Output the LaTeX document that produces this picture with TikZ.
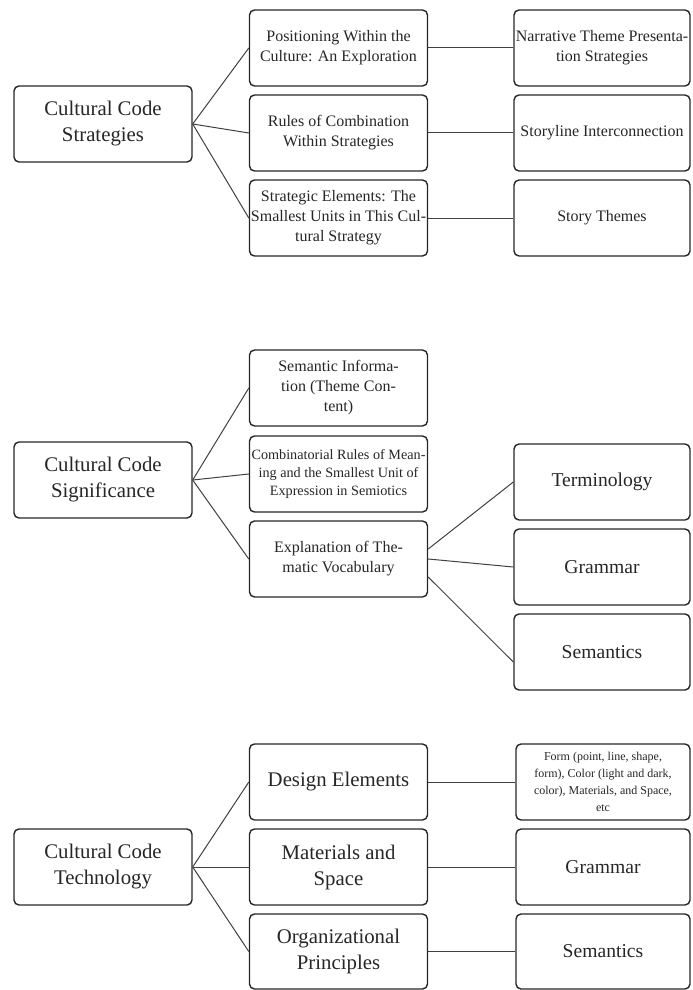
\documentclass[tikz,border=0pt]{standalone}
\usepackage{fontspec}
\setmainfont{Liberation Serif}
\begin{document}
\begin{tikzpicture}[x=0.5pt, y=-0.5pt,
		box/.style={draw=black!85, rounded corners=2.5pt, line width=0.7pt, align=center,
			minimum width=89pt, minimum height=38pt, inner sep=0.3pt, text=black!85},
		rbox/.style={box, minimum width=88pt},
		link/.style={draw=black!75, line width=0.5pt},
		big/.style={font=\fontsize{10.4}{13}\selectfont},
		large/.style={font=\fontsize{9.8}{12}\selectfont},
		mid/.style={font=\fontsize{8}{10}\selectfont},
		small/.style={font=\fontsize{7.1}{9}\selectfont},
		tiny/.style={font=\fontsize{6}{8.6}\selectfont}]
	
	\useasboundingbox (0,0) rectangle (692,990);
	
	% ================= Strategies =================
	\node[box, big] (root1) at (103,124) {Cultural Code\\Strategies};
	\node[box, mid] (pos) at (338.5,48) {Positioning Within the\\Culture: An Exploration};
	\node[box, mid] (rules) at (338.5,133) {Rules of Combination\\Within Strategies};
	\node[box, mid] (elem) at (338.5,218) {Strategic Elements: The\\Smallest Units in This Cul-\\tural Strategy};
	\node[rbox, mid] (narr) at (602,48) {Narrative Theme Presenta-\\tion Strategies};
	\node[rbox, mid] (story) at (602,133) {Storyline Interconnection};
	\node[rbox, mid] (theme) at (602,218) {Story Themes};
	
	\draw[link] (root1.east) -- (pos.west);
	\draw[link] (root1.east) -- (rules.west);
	\draw[link] (root1.east) -- (elem.west);
	\draw[link] (pos.east) -- (narr.west);
	\draw[link] (rules.east) -- (story.west);
	\draw[link] (elem.east) -- (theme.west);
	
	% ================= Significance =================
	\node[box, big] (root2) at (103,480) {Cultural Code\\Significance};
	\node[box, mid] (sem) at (338.5,388) {Semantic Informa-\\tion (Theme Con-\\tent)};
	\node[box, small] (comb) at (338.5,474) {Combinatorial Rules of Mean-\\ing and the Smallest Unit of\\Expression in Semiotics};
	\node[box, mid] (expl) at (338.5,559) {Explanation of The-\\matic Vocabulary};
	\node[rbox, large] (term) at (602,482) {Terminology};
	\node[rbox, large] (gram) at (602,567) {Grammar};
	\node[rbox, large] (sman) at (602,652) {Semantics};
	
	\draw[link] (root2.east) -- (sem.west);
	\draw[link] (root2.east) -- (comb.west);
	\draw[link] (root2.east) -- (expl.west);
	\draw[link] ([yshift=5pt]expl.east) -- (term.west);
	\draw[link] (expl.east) -- (gram.west);
	\draw[link] ([yshift=-9pt]expl.east) -- ([yshift=-5pt]sman.west);
	
	% ================= Technology =================
	\node[box, big] (root3) at (103,867) {Cultural Code\\Technology};
	\node[box, big] (design) at (338.5,782) {Design Elements};
	\node[box, big] (mat) at (338.5,867) {Materials and\\Space};
	\node[box, big, minimum height=37.5pt] (org) at (338.5,951.5) {Organizational\\Principles};
	\node[box, tiny, minimum width=87pt] (form) at (603,782) {Form (point, line, shape,\\form), Color (light and dark,\\color), Materials, and Space,\\etc};
	\node[box, large, minimum width=87pt] (gram2) at (603,867) {Grammar};
	\node[box, large, minimum width=87pt, minimum height=37.5pt] (sman2) at (603,951.5) {Semantics};
	
	\draw[link] (root3.east) -- (design.west);
	\draw[link] (root3.east) -- (mat.west);
	\draw[link] (root3.east) -- (org.west);
	\draw[link] (design.east) -- (form.west);
	\draw[link] (mat.east) -- (gram2.west);
	\draw[link] (org.east) -- (sman2.west);
	
\end{tikzpicture}
\end{document}
